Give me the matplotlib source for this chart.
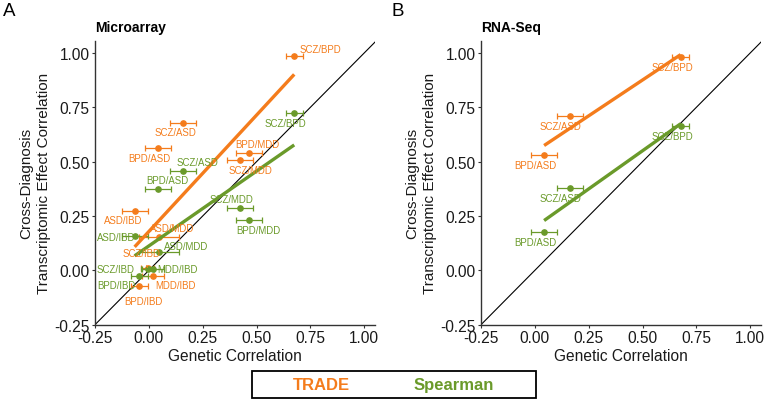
#!/usr/bin/env python3

# Cross-diagnosis transcriptomic correlation vs genetic correlation

import numpy as np
import matplotlib
matplotlib.use("Agg")
import matplotlib.pyplot as plt
from matplotlib.patches import Rectangle

# BEG DATA
pairs_a = ["SCZ/BPD", "SCZ/ASD", "BPD/ASD", "BPD/MDD", "SCZ/MDD",
           "ASD/IBD", "ASD/MDD", "SCZ/IBD", "MDD/IBD", "BPD/IBD"]
gc_a       = [0.675, 0.160, 0.042, 0.464, 0.424, -0.066, 0.047, -0.006, 0.020, -0.045]
gc_err_a   = [0.040, 0.060, 0.060, 0.060, 0.060, 0.060, 0.095, 0.030, 0.050, 0.040]
trade_a    = [0.988, 0.679, 0.565, 0.539, 0.507, 0.272, 0.155, 0.013, -0.025, -0.070]
spearman_a = [0.725, 0.456, 0.376, 0.233, 0.288, 0.159, 0.084, 0.005, 0.005, -0.028]

pairs_b = ["SCZ/BPD", "SCZ/ASD", "BPD/ASD"]
gc_b       = [0.677, 0.163, 0.043]
gc_err_b   = [0.040, 0.060, 0.060]
trade_b    = [0.982, 0.708, 0.530]
spearman_b = [0.662, 0.379, 0.176]

ticks = [-0.25, 0.00, 0.25, 0.50, 0.75, 1.00]
# END DATA

# label offsets in pixels (dx, dy), and whether a leader segment is drawn
lab_trade_a = {"SCZ/BPD": (26, 7), "SCZ/ASD": (-8, -9), "BPD/ASD": (-9, -10),
               "BPD/MDD": (9, 9), "SCZ/MDD": (10, -10), "ASD/IBD": (-11, -9),
               "ASD/MDD": (13, 9), "SCZ/IBD": (-6, 15), "MDD/IBD": (22, -9),
               "BPD/IBD": (4, -15)}
seg_trade_a = ["SCZ/IBD", "BPD/IBD"]
lab_spear_a = {"SCZ/BPD": (-9, -10), "SCZ/ASD": (14, 9), "BPD/ASD": (9, 9),
               "BPD/MDD": (9.5, -10), "SCZ/MDD": (-9, 9), "ASD/IBD": (-18.5, -1),
               "ASD/MDD": (27, 6), "SCZ/IBD": (-31.5, 0), "MDD/IBD": (24.5, 0),
               "BPD/IBD": (-23, -9)}
lab_b = {"SCZ/BPD": (-8, -10), "SCZ/ASD": (-9, -10), "BPD/ASD": (-9, -10)}

ORANGE = "#F47C1C"
GREEN = "#6A9A2A"
INK = "#1a1a1a"

plt.rcParams["font.family"] = ["Liberation Sans", "DejaVu Sans"]

W, H = 766, 402
fig = plt.figure(figsize=(W / 100, H / 100), dpi=100)


def px_box(x0, y0, x1, y1):
    return [x0 / W, 1 - y1 / H, (x1 - x0) / W, (y1 - y0) / H]


def draw_series(ax, x, xerr, y, names, color, offsets, segs=()):
    ax.errorbar(x, y, xerr=xerr, fmt="o", color=color, ms=3.8, elinewidth=0.9,
                capsize=2.3, capthick=0.9, zorder=3)
    for xi, yi, name in zip(x, y, names):
        dx, dy = offsets[name]
        arrow = None
        if name in segs:
            arrow = dict(arrowstyle="-", color=color, lw=0.8, shrinkA=4, shrinkB=2)
        ax.annotate(name, (xi, yi), xytext=(dx, dy), textcoords="offset pixels",
                    ha="center", va="center", fontsize=6.9, color=color,
                    arrowprops=arrow, zorder=6)


def draw_fit(ax, x, y, color):
    x = np.asarray(x)
    slope, icpt = np.polyfit(x, y, 1)
    xs = np.array([x.min(), x.max()])
    ax.plot(xs, icpt + slope * xs, color=color, lw=2.4, solid_capstyle="butt", zorder=4)


def style_axes(ax, title):
    ax.set_xlim(-0.25, 1.05)
    ax.set_ylim(-0.25, 1.055)
    ax.axline((0, 0), slope=1, color="black", lw=0.8, zorder=1)
    ax.set_xticks(ticks)
    ax.set_yticks(ticks)
    ax.set_xticklabels([f"{t:.2f}" for t in ticks])
    ax.set_yticklabels([f"{t:.2f}" for t in ticks])
    for side in ["top", "right"]:
        ax.spines[side].set_visible(False)
    for side in ["left", "bottom"]:
        ax.spines[side].set_color("#333333")
        ax.spines[side].set_linewidth(1.0)
    ax.tick_params(length=2.5, width=0.8, color="#333333", labelsize=11.2,
                   labelcolor=INK, pad=1.5)
    ax.set_xlabel("Genetic Correlation", fontsize=11.2, color=INK, labelpad=2)
    ax.set_ylabel("Cross-Diagnosis\nTranscriptomic Effect Correlation",
                  fontsize=11, color=INK, labelpad=2, linespacing=1.35)
    ax.set_title(title, loc="left", fontsize=10, fontweight="bold", pad=7)


ax_a = fig.add_axes(px_box(95, 42, 375, 325.7))
ax_b = fig.add_axes(px_box(481, 42, 761, 325.7))

style_axes(ax_a, "Microarray")
draw_series(ax_a, gc_a, gc_err_a, trade_a, pairs_a, ORANGE, lab_trade_a, seg_trade_a)
draw_series(ax_a, gc_a, gc_err_a, spearman_a, pairs_a, GREEN, lab_spear_a)
draw_fit(ax_a, gc_a, trade_a, ORANGE)
draw_fit(ax_a, gc_a, spearman_a, GREEN)

style_axes(ax_b, "RNA-Seq")
draw_series(ax_b, gc_b, gc_err_b, trade_b, pairs_b, ORANGE, lab_b)
draw_series(ax_b, gc_b, gc_err_b, spearman_b, pairs_b, GREEN, lab_b)
draw_fit(ax_b, gc_b, trade_b, ORANGE)
draw_fit(ax_b, gc_b, spearman_b, GREEN)

# panel letters
fig.text(3 / W, 1 - 12 / H, "A", fontsize=13.5, va="center", ha="left")
fig.text(391 / W, 1 - 12 / H, "B", fontsize=13.5, va="center", ha="left")

# legend box
fig.add_artist(Rectangle((252 / W, 1 - 399 / H), 284 / W, 26.7 / H,
                         transform=fig.transFigure, fill=False, ec="black", lw=1.3))
fig.text(321.7 / W, 1 - 385.7 / H, "TRADE", color=ORANGE, fontsize=12,
         fontweight="bold", ha="center", va="center")
fig.text(453.7 / W, 1 - 385.7 / H, "Spearman", color=GREEN, fontsize=12,
         fontweight="bold", ha="center", va="center")

fig.savefig("out.png", dpi=100)
